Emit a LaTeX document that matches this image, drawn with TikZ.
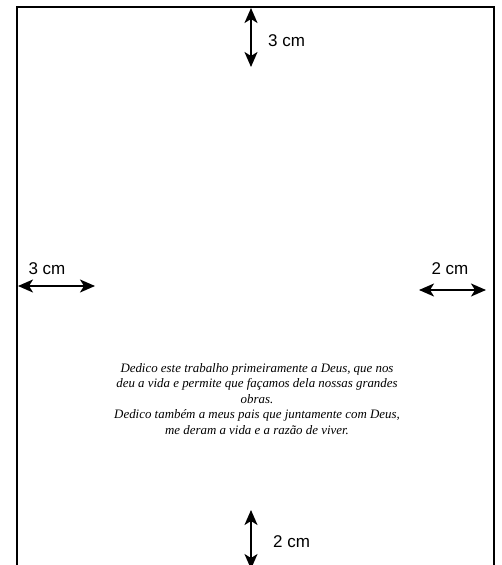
\documentclass[tikz,border=0pt]{standalone}
\usepackage{fontspec}
\setmainfont{Liberation Serif}
\newfontfamily\labelfont{Liberation Sans}
\usetikzlibrary{arrows.meta,positioning}

\tikzset{
  margin/.style={line width=1.7pt, {Stealth[length=15pt,width=13pt,inset=4pt]}-{Stealth[length=15pt,width=13pt,inset=4pt]}},
  cmlabel/.style={font=\labelfont\fontsize{17}{17}\selectfont, inner sep=1pt},
  page/.style={line width=1.2pt}
}

\begin{document}
\begin{tikzpicture}[x=1pt, y=-1pt]
  \useasboundingbox (0,0) rectangle (502,565);
  % page outline, open at the bottom
  \draw[page] (17,575) -- (17,7) -- (494,7) -- (494,575);

  % top margin
  \coordinate (topA) at (251,8);
  \coordinate (topB) at (251,67);
  \draw[margin] (topA) -- (topB);
  \node[cmlabel, anchor=west] (topLbl) at (267,41) {3 cm};

  % left margin
  \coordinate (leftA) at (18,286);
  \coordinate (leftB) at (95,286);
  \draw[margin] (leftA) -- (leftB);
  \node[cmlabel] (leftLbl) at (47,269) {3 cm};

  % right margin
  \coordinate (rightA) at (419,290);
  \coordinate (rightB) at (486,290);
  \draw[margin] (rightA) -- (rightB);
  \node[cmlabel] (rightLbl) at (450,269) {2 cm};

  % bottom margin
  \coordinate (botA) at (251,510);
  \coordinate (botB) at (251,569);
  \draw[margin] (botA) -- (botB);
  \node[cmlabel, anchor=west] (botLbl) at (272,542) {2 cm};

  % dedication
  \node[font=\itshape\fontsize{12.9}{15.5}\selectfont, align=center] (dedic) at (257,399)
    {Dedico este trabalho primeiramente a Deus, que nos\\
     deu a vida e permite que façamos dela nossas grandes\\
     obras.\\
     Dedico também a meus pais que juntamente com Deus,\\
     me deram a vida e a razão de viver.};
\end{tikzpicture}
\end{document}
